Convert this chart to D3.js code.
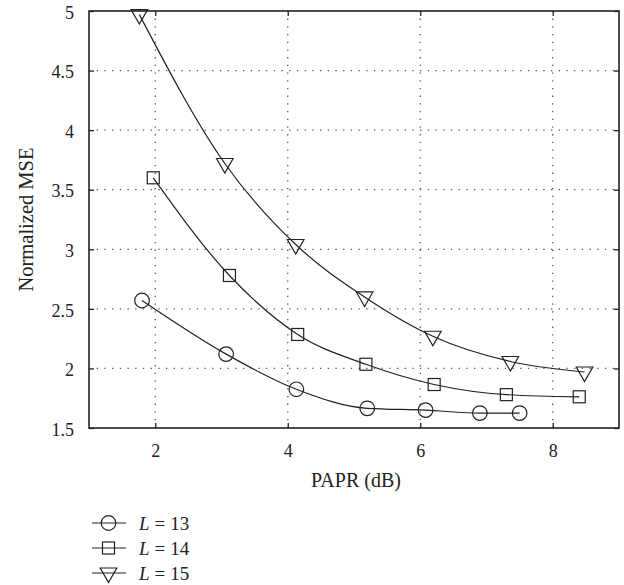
<html>
<script src='https://d3js.org/d3.v7.min.js'></script>
<style>
  body {margin: 0; background: white;}
  text {font-family: 'Liberation Serif', 'DejaVu Serif', serif; fill: #222;}
  .grid line {stroke: #555; stroke-width: 1.3; stroke-dasharray: 1.3,6.4;}
  .frame {fill: none; stroke: #222; stroke-width: 1.6;}
  .series {fill: none; stroke: #222; stroke-width: 1.2;}
  .mark {fill: none; stroke: #222; stroke-width: 1.2;}
</style>
<body onload='init()'>
<svg width=624 height=585></svg>
<script>

// PAPR (dB) / normalized MSE
var papr13 = [1.8, 3.07, 4.13, 5.2, 6.08, 6.9, 7.5];
var mse13  = [2.57, 2.12, 1.825, 1.665, 1.65, 1.625, 1.625];
var papr14 = [1.97, 3.12, 4.15, 5.18, 6.21, 7.3, 8.4];
var mse14  = [3.6, 2.78, 2.285, 2.035, 1.865, 1.78, 1.762];
var papr15 = [1.76, 3.05, 4.12, 5.16, 6.19, 7.36, 8.48];
var mse15  = [4.97, 3.72, 3.04, 2.6, 2.27, 2.058, 1.97];
var labels = ['13', '14', '15'];
var shapes = ['circle', 'square', 'triangle'];

var xTicks = [2, 4, 6, 8];
var yTicks = [1.5, 2, 2.5, 3, 3.5, 4, 4.5, 5];

function init() {
	var svg = d3.select('svg');
	var left = 89, right = 619, top = 11, bottom = 428;

	var x = d3.scaleLinear().domain([1, 9]).range([left, right]);
	var y = d3.scaleLinear().domain([1.5, 5]).range([bottom, top]);

	var series = [
		{papr: papr13, mse: mse13},
		{papr: papr14, mse: mse14},
		{papr: papr15, mse: mse15}
	];

	// dotted grid
	var grid = svg.append('g').attr('class', 'grid');
	grid.selectAll('line.gx').data(xTicks).enter().append('line')
		.attr('x1', d => x(d)).attr('x2', d => x(d))
		.attr('y1', bottom).attr('y2', top);
	grid.selectAll('line.gy').data(yTicks.slice(1, -1)).enter().append('line')
		.attr('y1', d => y(d)).attr('y2', d => y(d))
		.attr('x1', left).attr('x2', right);

	// inward ticks on all four sides
	var tk = 5;
	var axL = svg.append('g').attr('transform', 'translate(' + left + ',0)')
		.call(d3.axisLeft(y).tickValues(yTicks).tickSizeInner(-tk).tickSizeOuter(0).tickPadding(15).tickFormat(d3.format('~g')));
	var axR = svg.append('g').attr('transform', 'translate(' + right + ',0)')
		.call(d3.axisRight(y).tickValues(yTicks).tickSizeInner(-tk).tickSizeOuter(0).tickFormat(''));
	var axB = svg.append('g').attr('transform', 'translate(0,' + bottom + ')')
		.call(d3.axisBottom(x).tickValues(xTicks).tickSizeInner(-tk).tickSizeOuter(0).tickPadding(16));
	var axT = svg.append('g').attr('transform', 'translate(0,' + top + ')')
		.call(d3.axisTop(x).tickValues(xTicks).tickSizeInner(-tk).tickSizeOuter(0).tickFormat(''));
	[axL, axR, axB, axT].forEach(function (g) {
		g.select('.domain').remove();
		g.selectAll('line').attr('stroke', '#222').attr('stroke-width', 1.3);
		g.selectAll('text').style('font-size', '18px').attr('fill', '#222')
			.style('font-family', "'Liberation Serif', serif");
	});
	axL.selectAll('text').attr('dy', '0.4em');

	svg.append('rect').attr('class', 'frame')
		.attr('x', left).attr('y', top).attr('width', right - left).attr('height', bottom - top);

	// curves
	var line = d3.line().curve(d3.curveMonotoneX)
		.x(d => x(d[0])).y(d => y(d[1]));
	series.forEach(function (s, i) {
		var pts = d3.zip(s.papr, s.mse);
		svg.append('path').attr('class', 'series').attr('d', line(pts));
		pts.forEach(function (p) { drawMark(svg, shapes[i], x(p[0]), y(p[1])); });
	});

	// axis titles
	svg.append('text').attr('x', 356).attr('y', 487)
		.attr('text-anchor', 'middle').style('font-size', '20px').text('PAPR (dB)');
	svg.append('text').attr('transform', 'translate(33,' + ((top + bottom) / 2) + ') rotate(-90)')
		.attr('text-anchor', 'middle').style('font-size', '20.5px').text('Normalized MSE');

	// legend
	var lg = svg.append('g').attr('transform', 'translate(92,523)');
	labels.forEach(function (lab, i) {
		var row = lg.append('g').attr('transform', 'translate(0,' + (i * 25) + ')');
		row.append('line').attr('x1', 0).attr('x2', 34).attr('y1', 0).attr('y2', 0)
			.attr('stroke', '#222').attr('stroke-width', 1.2);
		drawMark(row, shapes[i], 16.5, 0);
		var t = row.append('text').attr('x', 47).attr('y', 6.5).style('font-size', '19px');
		t.append('tspan').style('font-style', 'italic').text('L');
		t.append('tspan').attr('dx', 5).text('=');
		t.append('tspan').attr('dx', 5).text(lab);
	});
}

function drawMark(g, shape, cx, cy) {
	if (shape === 'circle') {
		g.append('circle').attr('class', 'mark').attr('cx', cx).attr('cy', cy).attr('r', 7.3);
	} else if (shape === 'square') {
		g.append('rect').attr('class', 'mark').attr('x', cx - 6).attr('y', cy - 6)
			.attr('width', 12).attr('height', 12);
	} else {
		g.append('path').attr('class', 'mark')
			.attr('d', 'M' + (cx - 8.3) + ',' + (cy - 5) + 'L' + (cx + 8.3) + ',' + (cy - 5) + 'L' + cx + ',' + (cy + 9.5) + 'Z');
	}
}

</script>
</body>
</html>
